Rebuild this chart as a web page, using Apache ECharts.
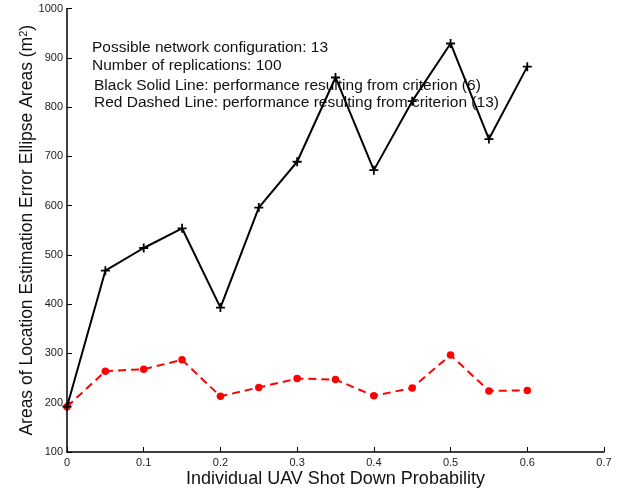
<!DOCTYPE html>
<html><head><meta charset="utf-8">
<script src="https://cdn.jsdelivr.net/npm/echarts@6/dist/echarts.min.js"></script>
<style>html,body{margin:0;padding:0;background:#fff}#c{width:623px;height:490px}</style>
</head><body><div id="c"></div>
<script>
var xValues = [0, 0.05, 0.1, 0.15, 0.2, 0.25, 0.3, 0.35, 0.4, 0.45, 0.5, 0.55, 0.6];
var blackSolid = [192, 468, 514, 554, 393, 596, 689, 860, 672, 812, 929, 735, 882];
var redDashed = [192, 264, 268, 287, 213, 231, 249, 247, 214, 230, 297, 224, 225];
var notes = [
  'Possible network configuration: 13',
  'Number of replications: 100',
  'Black Solid Line: performance resulting from criterion (6)',
  'Red Dashed Line: performance resulting from criterion (13)'
];
function pairs(v){ return xValues.map(function(x,i){ return [x, v[i]]; }); }
var font = 'Liberation Sans, Arial, Helvetica, sans-serif';
var chart = echarts.init(document.getElementById('c'));
chart.setOption({
  animation: false,
  grid: {left: 67, right: 19, top: 8.5, bottom: 38, outerBoundsMode: 'none', containLabel: false},
  xAxis: {
    type: 'value', min: 0, max: 0.7, interval: 0.1,
    name: 'Individual UAV Shot Down Probability', nameLocation: 'middle', nameGap: 18, nameMoveOverlap: false,
    nameTextStyle: {fontFamily: font, fontSize: 18, color: '#111'},
    axisLine: {show: true, lineStyle: {color: '#000', width: 1.5}},
    axisTick: {show: true, inside: true, length: 5, lineStyle: {color: '#000'}},
    axisLabel: {fontFamily: font, fontSize: 11, color: '#222', margin: 5,
      formatter: function(v){ return v === 0 ? '0' : String(+v.toFixed(1)); }},
    splitLine: {show: false}
  },
  yAxis: {
    type: 'value', min: 100, max: 1000, interval: 100,
    name: '{a|Areas of Location Estimation Error Ellipse Areas (m}{s|2}{a|)}',
    nameLocation: 'middle', nameGap: 30, nameMoveOverlap: false,
    nameTextStyle: {fontFamily: font, fontSize: 18, color: '#111',
      rich: {a: {fontFamily: font, fontSize: 17.5, color: '#111'},
             s: {fontFamily: font, fontSize: 11, color: '#111', verticalAlign: 'top', padding: [0, 0, 8, 0]}}},
    axisLine: {show: true, lineStyle: {color: '#000', width: 1.5}},
    axisTick: {show: true, inside: true, length: 5, lineStyle: {color: '#000'}},
    axisLabel: {fontFamily: font, fontSize: 11, color: '#222', margin: 4,
      formatter: function(v){ return String(v); }},
    splitLine: {show: false}
  },
  graphic: notes.map(function(t, i){
    return {type: 'text', left: i < 2 ? 92 : 94, top: [40, 58, 78, 95][i],
      style: {text: t, font: '15.5px ' + font, fill: '#111'}};
  }),
  series: [
    {type: 'line', data: pairs(redDashed), symbol: 'circle', symbolSize: 7.5,
      lineStyle: {color: '#f00', width: 2, type: [8, 5]}, itemStyle: {color: '#f00'}, z: 2},
    {type: 'line', data: pairs(blackSolid), symbol: 'path://M4,0H6V4H10V6H6V10H4V6H0V4H4Z', symbolSize: 9,
      lineStyle: {color: '#000', width: 2}, itemStyle: {color: '#000'}, z: 3}
  ]
});
</script></body></html>
